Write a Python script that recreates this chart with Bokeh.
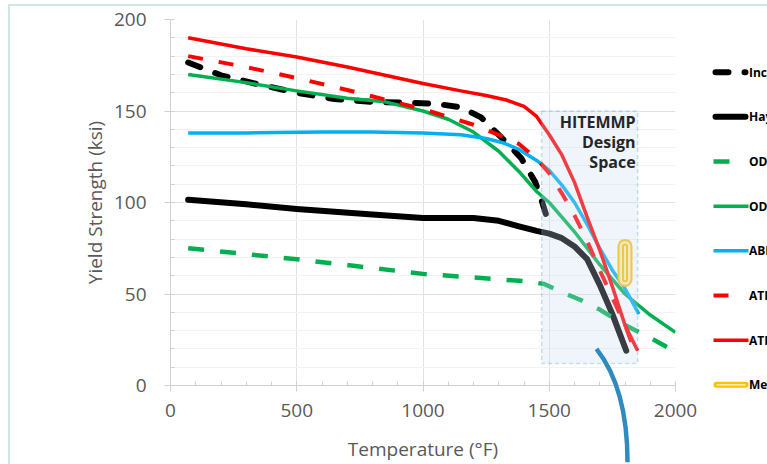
from bokeh.plotting import figure
from bokeh.models import BoxAnnotation, Label, SingleIntervalTicker, InlineStyleSheet
from bokeh.core.properties import value
from bokeh.embed import file_html
from bokeh.resources import INLINE

# ---- yield strength (ksi) vs temperature (°F) ----
temp_inconel = [70, 200, 350, 500, 650, 800, 950, 1050, 1150, 1230, 1300, 1350, 1390, 1445, 1470, 1495]
ys_inconel = [176.5, 169.5, 164.5, 160, 156.5, 155, 154.5, 154, 152, 146.5, 137, 130, 124, 111, 101, 90]

temp_haynes = [70, 300, 500, 800, 1000, 1100, 1200, 1300, 1380, 1450, 1500, 1550, 1600, 1650, 1700, 1750, 1805]
ys_haynes = [101.5, 99, 96.5, 93.5, 91.5, 91.5, 91.5, 90, 87, 84.5, 83, 80.5, 76, 69, 55, 39, 19]

temp_ods_a = [70, 500, 1000, 1300, 1400, 1480, 1550, 1620, 1700, 1800, 1900, 2000]
ys_ods_a = [75, 69, 61, 58, 57, 55.5, 51, 47, 41.5, 33, 26, 18.5]

temp_ods_b = [70, 300, 500, 700, 850, 1000, 1100, 1200, 1300, 1380, 1450, 1500, 1550, 1600, 1650, 1700, 1800, 1900, 2000]
ys_ods_b = [170, 165.5, 161, 157, 155, 150, 145.5, 138.5, 128, 117, 106, 100, 92, 84, 75, 66, 50, 38.5, 29]

temp_abd = [70, 300, 600, 800, 1000, 1150, 1250, 1320, 1380, 1450, 1500, 1550, 1600, 1650, 1700, 1750, 1800, 1855]
ys_abd = [138, 138, 138.5, 138.5, 138, 137, 135, 132.5, 129, 123, 117.5, 109.5, 100, 88, 75, 63, 53, 39]

temp_ati_a = [70, 300, 500, 700, 1000, 1200, 1300, 1380, 1450, 1500, 1550, 1600, 1650, 1700, 1750, 1800, 1830]
ys_ati_a = [180, 174, 168, 161.5, 151, 142.5, 137, 132, 124, 116, 105, 93, 79, 63, 48, 33, 22]

temp_ati_b = [70, 300, 500, 700, 1000, 1150, 1250, 1330, 1400, 1450, 1500, 1550, 1600, 1650, 1700, 1750, 1800, 1850]
ys_ati_b = [190, 184, 179.5, 174, 165, 161, 158.5, 156, 152.5, 147, 137, 126, 111, 92, 74, 54, 33, 19]

temp_measured = [1800, 1800]
ys_measured = [58, 76]

series_labels = ["Inconel 740H", "Haynes 282", "ODS 14YWT", "ODS MA956",
                 "ABD-900AM", "ATI 718Plus", "ATI 720Li", "Measured"]

# design-space window (°F, ksi) and its caption
design_temp = [1470, 1850]
design_ys = [12, 150]
design_text = "HITEMMP\nDesign\nSpace"

# callout curve leaving the design space
callout_x = [1687, 1810, 1810]   # start, control, end
callout_y = [20, -1.5, -42]

FONT = "Open Sans"
GREY = "#595959"

# page layout (px)
W, H = 767, 464
LEFT, RIGHT, TOP, BOTTOM = 170, 92, 19, 77
X_RANGE, Y_RANGE = (0, 2000), (0, 200)

p = figure(width=W, height=H, output_backend="svg", toolbar_location=None,
           x_range=X_RANGE, y_range=Y_RANGE,
           min_border_left=LEFT, min_border_right=RIGHT,
           min_border_top=TOP, min_border_bottom=BOTTOM)
p.outline_line_color = None
p.background_fill_color = "white"
p.border_fill_color = "white"

p.xaxis.ticker = SingleIntervalTicker(interval=500, num_minor_ticks=5)
p.yaxis.ticker = SingleIntervalTicker(interval=50, num_minor_ticks=5)
p.xaxis.axis_label = "Temperature (°F)"
p.yaxis.axis_label = "Yield Strength (ksi)"
for ax in (p.xaxis[0], p.yaxis[0]):
    ax.axis_line_color = "#d0d0d0"
    ax.major_tick_line_color = "#d0d0d0"
    ax.minor_tick_line_color = "#d0d0d0"
    ax.major_tick_out = 6
    ax.major_tick_in = 0
    ax.minor_tick_out = 0
    ax.minor_tick_in = 4
    ax.major_label_text_font = FONT
    ax.major_label_text_font_size = "19px"
    ax.major_label_text_color = GREY
    ax.axis_label_text_font = FONT
    ax.axis_label_text_font_size = "19px"
    ax.axis_label_text_font_style = "normal"
    ax.axis_label_text_color = GREY
p.yaxis.major_label_standoff = 18
p.yaxis.axis_label_standoff = 3
p.xaxis.major_label_standoff = 12
p.xaxis.axis_label_standoff = 16

p.xgrid.grid_line_color = "#e2e2e2"
p.ygrid.grid_line_color = "#e2e2e2"
p.ygrid.minor_grid_line_color = "#f2f2f2"

RED, GREEN, BLUE, YELLOW, PALE = "#ff0000", "#00b050", "#00b0f0", "#ffc000", "#fdeebc"

# line style of each series, in legend order
styles = [
    dict(line_color="black", line_width=6, line_dash="13 16", line_cap="round"),
    dict(line_color="black", line_width=6, line_cap="round"),
    dict(line_color=GREEN, line_width=4.5, line_dash="16 16"),
    dict(line_color=GREEN, line_width=3.5),
    dict(line_color=BLUE, line_width=3.5),
    dict(line_color=RED, line_width=4, line_dash="15 16"),
    dict(line_color=RED, line_width=3.5),
]
series = [(temp_inconel, ys_inconel), (temp_haynes, ys_haynes), (temp_ods_a, ys_ods_a),
          (temp_ods_b, ys_ods_b), (temp_abd, ys_abd), (temp_ati_a, ys_ati_a),
          (temp_ati_b, ys_ati_b)]
for (xs, ys), st in zip(series, styles):
    p.line(xs, ys, line_join="round", **st)

# measured range drawn as a capsule with a double outline
for lw, col in ((15, YELLOW), (11, PALE), (6, YELLOW), (2, PALE)):
    p.line(temp_measured, ys_measured, line_color=col, line_width=lw, line_cap="round")

# translucent design-space window over the curves
p.add_layout(BoxAnnotation(left=design_temp[0], right=design_temp[1],
                           bottom=design_ys[0], top=design_ys[1],
                           fill_color="#c5dcf0", fill_alpha=0.28,
                           line_color="#4a9cc3", line_width=1.5, line_dash="4 3"))

p.add_layout(Label(x=design_temp[1], y=design_ys[1], x_offset=-2, y_offset=0,
                   text=design_text, text_align="right", text_baseline="top",
                   text_font=FONT, text_font_style="bold", text_font_size="16px",
                   text_color="#262626", text_line_height=0.9))

p.quadratic(x0=callout_x[0], y0=callout_y[0], cx=callout_x[1], cy=callout_y[1],
            x1=callout_x[2], y1=callout_y[2], line_color="#2e8bc0", line_width=4.5,
            level="overlay")

# ---- legend column to the right of the plot area ----
fw = W - LEFT - RIGHT
fh = H - TOP - BOTTOM
def to_x(px):
    return X_RANGE[0] + (px - LEFT) * (X_RANGE[1] - X_RANGE[0]) / fw
def to_y(py):
    return Y_RANGE[0] + (H - BOTTOM - py) * (Y_RANGE[1] - Y_RANGE[0]) / fh

text_x = to_x(748.5)
row_y = [to_y(72 + 44.9 * i) for i in range(len(series_labels))]

for st, ry in zip(styles, row_y):
    if st.get("line_cap") == "round":
        k0, k1 = 715, 745
    elif "line_dash" in st:
        k0, k1 = 713, 741
    else:
        k0, k1 = 713, 748
    p.line([to_x(k0), to_x(k1)], [ry, ry], level="overlay", **st)
ry = row_y[-1]
p.line([to_x(716), to_x(745)], [ry, ry], line_color=YELLOW, line_width=6,
       line_cap="round", level="overlay")
p.line([to_x(716), to_x(745)], [ry, ry], line_color=PALE, line_width=1.5, level="overlay")

p.text(x=[text_x] * len(series_labels), y=row_y, text=series_labels,
       text_font=value(FONT), text_font_style="bold", text_font_size="12px",
       text_color="black", text_baseline="middle", text_align="left", level="overlay")

# thin mint frame around the chart area
p.stylesheets = [InlineStyleSheet(css=(
    ":host::after {content: ''; position: absolute; left: 8px; top: 4px; right: 0; bottom: 0;"
    " border-left: 2px solid #cde8df; border-top: 2px solid #cde8df; pointer-events: none;}"))]

open("out.html", "w").write(file_html(p, INLINE))
